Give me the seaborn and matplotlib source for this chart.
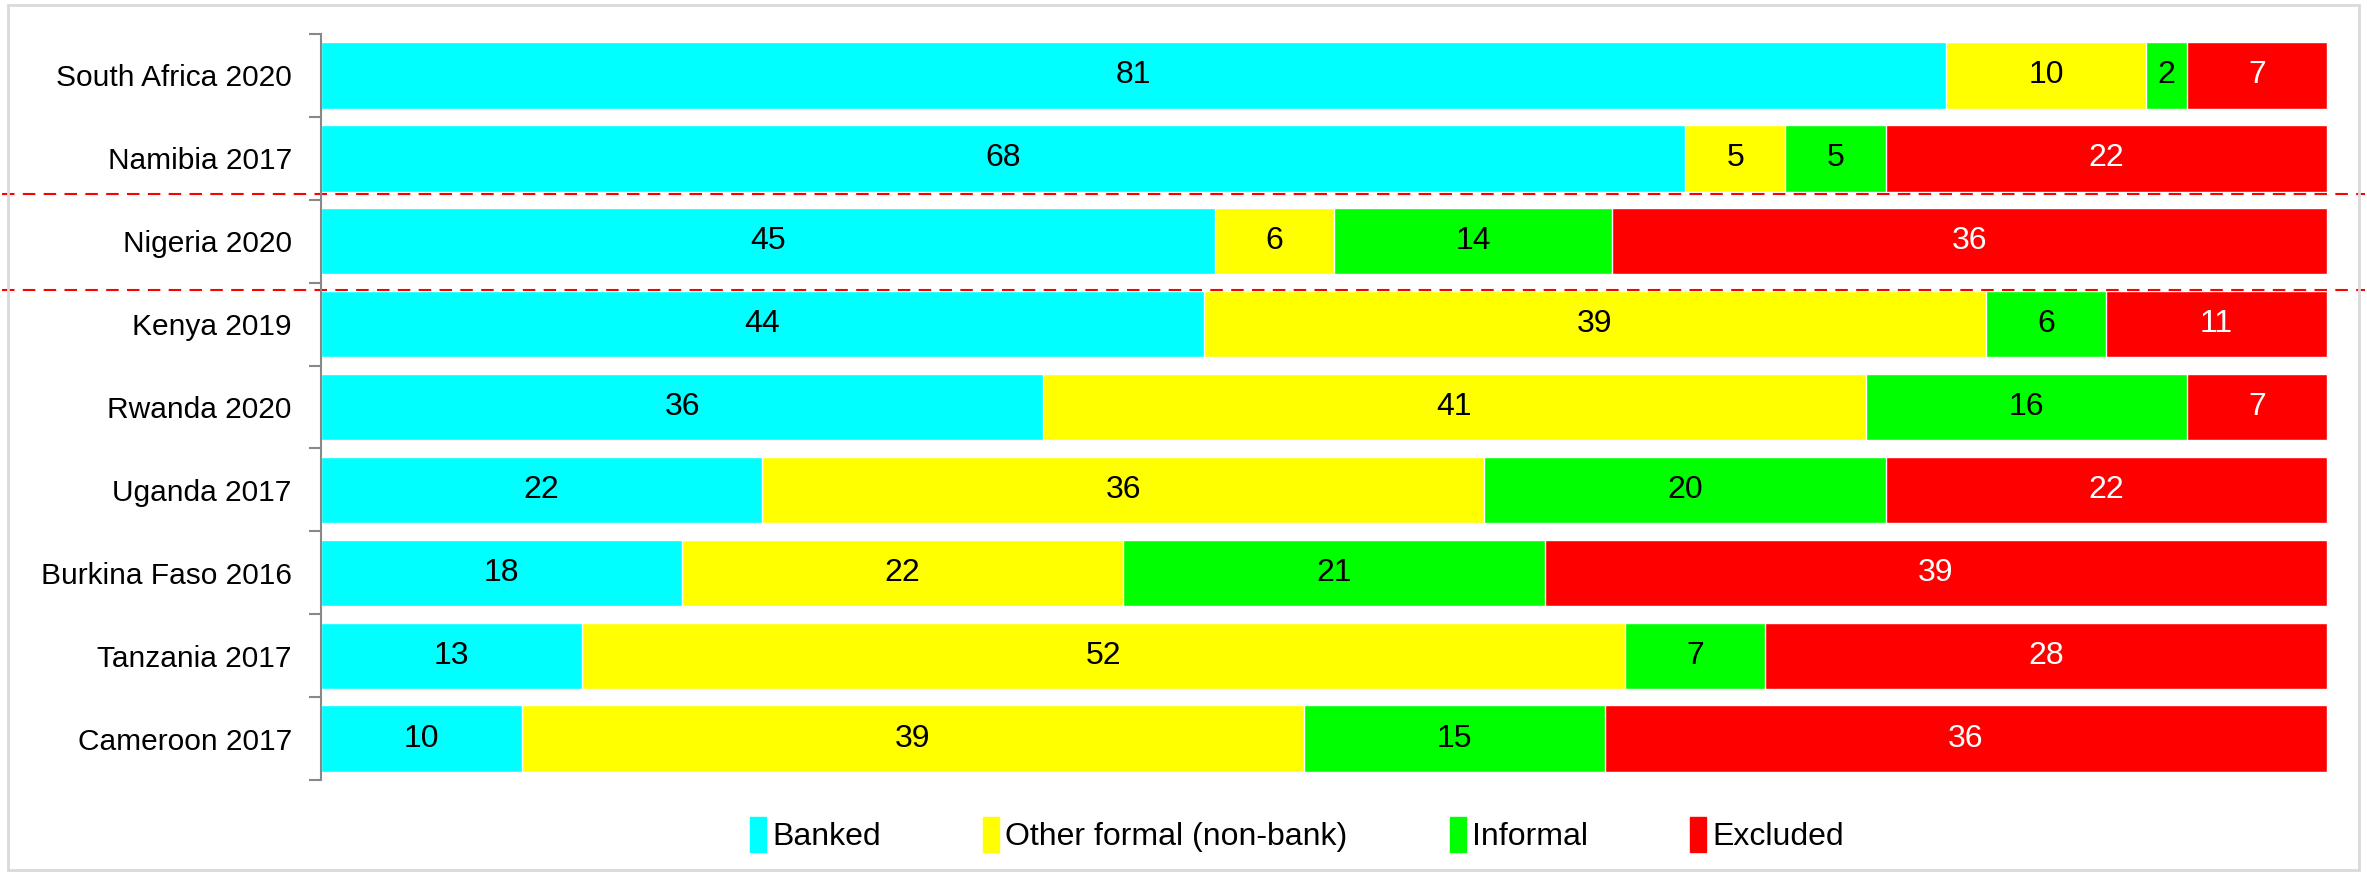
import pandas as pd
import numpy as np
import seaborn as sns
import matplotlib.pyplot as plt
from matplotlib.patches import Rectangle
from matplotlib.transforms import blended_transform_factory

# Chart data
countries = ["South Africa 2020", "Namibia 2017", "Nigeria 2020", "Kenya 2019", "Rwanda 2020",
             "Uganda 2017", "Burkina Faso 2016", "Tanzania 2017", "Cameroon 2017"]
banked = [81, 68, 45, 44, 36, 22, 18, 13, 10]
other_formal = [10, 5, 6, 39, 41, 36, 22, 52, 39]
informal = [2, 5, 14, 6, 16, 20, 21, 7, 15]
excluded = [7, 22, 36, 11, 7, 22, 39, 28, 36]

series = ["Banked", "Other formal (non-bank)", "Informal", "Excluded"]
colors = ["#00FFFF", "#FFFF00", "#00FF00", "#FF0000"]
text_colors = ["black", "black", "black", "white"]

df = pd.DataFrame({"Country": countries, "Banked": banked,
                   "Other formal (non-bank)": other_formal,
                   "Informal": informal, "Excluded": excluded})

# 100% stacked: normalise each row
vals = df[series].astype(float)
pct = vals.div(vals.sum(axis=1), axis=0) * 100
cum = pct.cumsum(axis=1)

sns.set_style("white")
plt.rcParams['font.family'] = ['Liberation Sans', 'DejaVu Sans']
plt.rcParams['text.color'] = 'black'
plt.rcParams['ytick.labelcolor'] = 'black'

fig = plt.figure(figsize=(23.67, 8.73), dpi=100)
ax = fig.add_axes([0.1356, 0.1065, 0.8475, 0.8545])

# draw cumulative bars from the last series back to the first so they stack
for i in range(len(series) - 1, -1, -1):
    sns.barplot(x=cum[series[i]], y=df["Country"], color=colors[i], orient="h",
                width=0.8, saturation=1, ax=ax)

# segment labels
for i, s in enumerate(series):
    centers = cum[s] - pct[s] / 2
    for row, (c, v) in enumerate(zip(centers, df[s])):
        ax.text(c, row, str(v), ha="center", va="center", fontsize=23, color=text_colors[i])

ax.set_xlim(0, 100)
ax.set_ylim(len(countries) - 0.5, -0.5)
ax.set_xlabel("")
ax.set_ylabel("")
ax.set_xticks([])
ax.set_yticks(np.arange(len(countries)))
ax.set_yticklabels(countries, fontsize=21.5, color="black")
ax.set_yticks(np.arange(len(countries) + 1) - 0.5, minor=True)
ax.tick_params(axis="y", which="major", length=0, pad=21)
ax.tick_params(axis="y", which="minor", length=9, width=1.5, color="#888888", left=True)
for side in ["top", "right", "bottom"]:
    ax.spines[side].set_visible(False)
ax.spines["left"].set_color("#888888")
ax.spines["left"].set_linewidth(1.5)

# red dashed separators across the whole figure
trans = blended_transform_factory(fig.transFigure, ax.transData)
for yv in [1.43, 2.59]:
    ax.plot([0.001, 0.999], [yv, yv], transform=trans, color="red", linestyle=(0, (6, 4)),
            linewidth=1.5, clip_on=False)

# legend
handles = [Rectangle((0, 0), 1, 1, color=c) for c in colors]
fig.legend(handles, series, loc="center", bbox_to_anchor=(0.548, 0.044), ncol=4, frameon=False,
           fontsize=23, handlelength=0.5, handleheight=1.3, handletextpad=0.2, columnspacing=3.2)

# light frame around the chart
fig.patches.append(Rectangle((0.0035, 0.004), 0.993, 0.99, transform=fig.transFigure,
                             fill=False, edgecolor="#D9D9D9", linewidth=2))

fig.savefig("out.png", dpi=100)
